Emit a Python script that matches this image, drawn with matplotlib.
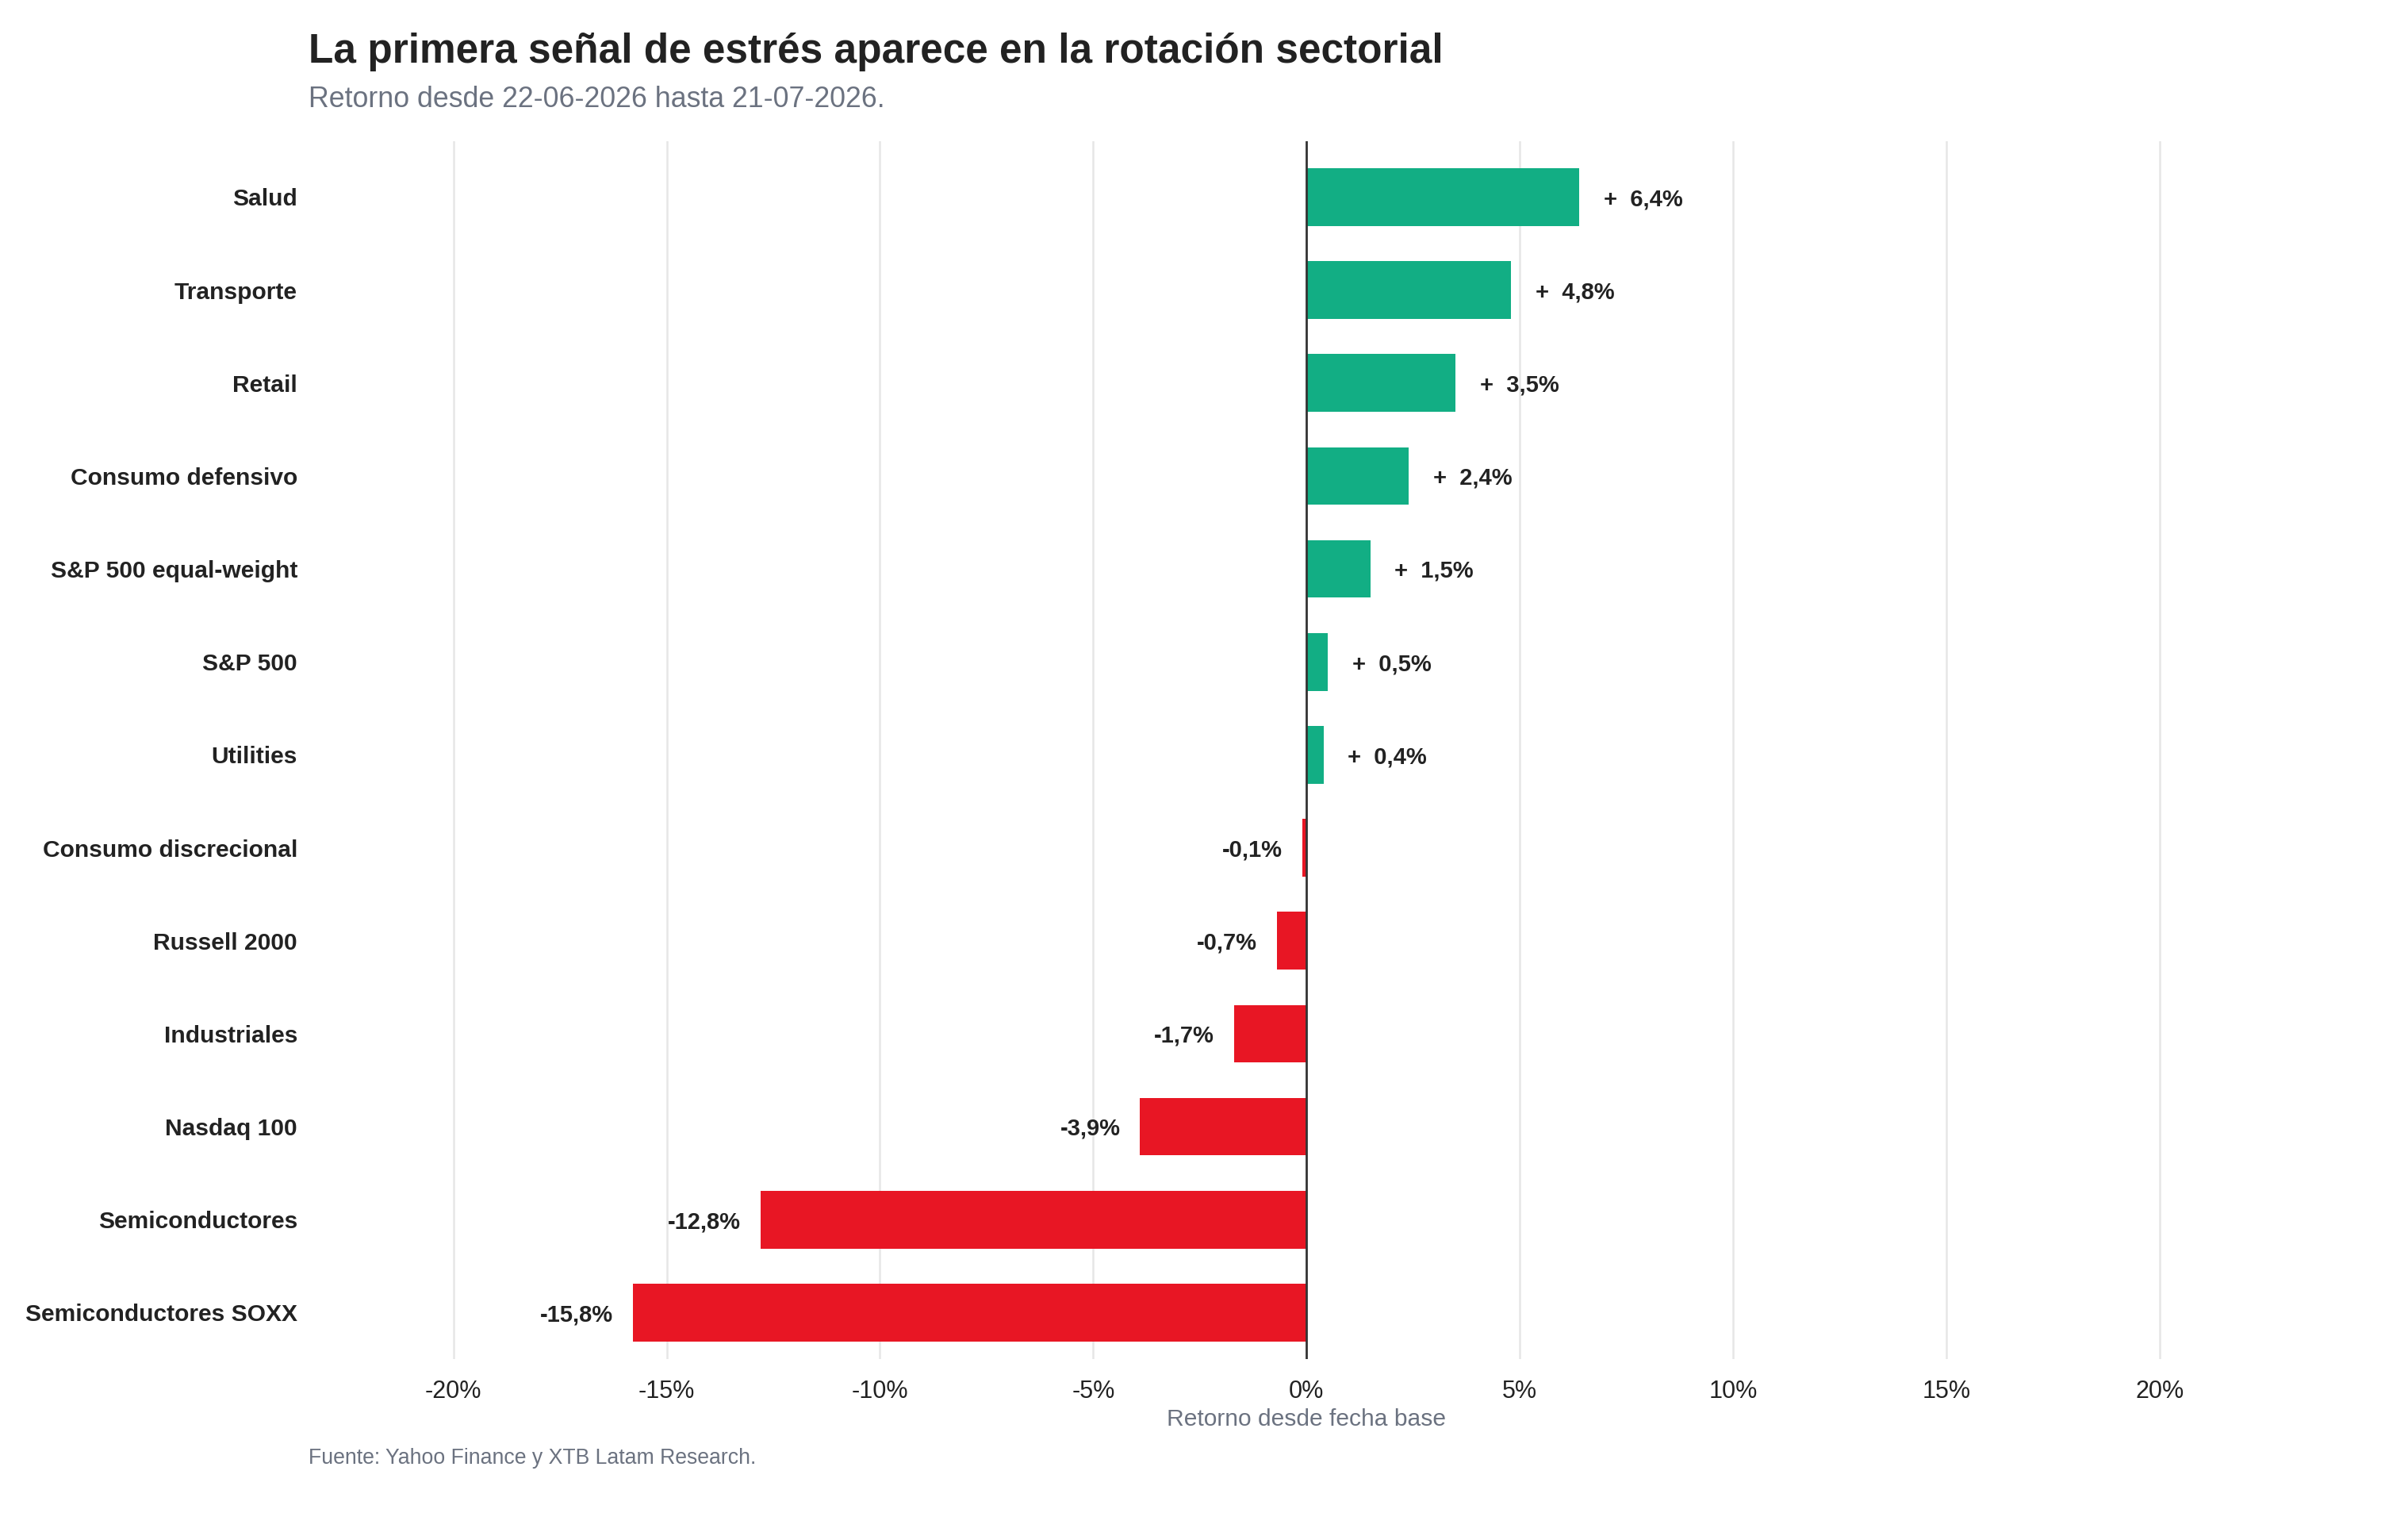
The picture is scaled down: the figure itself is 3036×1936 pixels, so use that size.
import matplotlib.pyplot as plt
import numpy as np

plt.rcParams['font.family'] = ['Liberation Sans', 'DejaVu Sans']

# Datos
categorias = ['Salud', 'Transporte', 'Retail', 'Consumo defensivo',
              'S&P 500 equal-weight', 'S&P 500', 'Utilities',
              'Consumo discrecional', 'Russell 2000', 'Industriales',
              'Nasdaq 100', 'Semiconductores', 'Semiconductores SOXX']
retornos = [6.4, 4.8, 3.5, 2.4, 1.5, 0.5, 0.4, -0.1, -0.7, -1.7, -3.9, -12.8, -15.8]
ticks = [-20, -15, -10, -5, 0, 5, 10, 15, 20]

verde = '#12ae84'
rojo = '#e81624'

fig = plt.figure(figsize=(15.18, 9.68), dpi=200)
ax = fig.add_axes([0.1281, 0.1152, 0.8289, 0.7928])

y = np.arange(len(categorias))[::-1]
colores = [verde if v > 0 else rojo for v in retornos]
ax.barh(y, retornos, height=0.62, color=colores, zorder=2)
ax.axvline(0, color='#333333', linewidth=1.0, zorder=3)

# Etiquetas de valor
for yi, v in zip(y, retornos):
    txt = f'{v:.1f}'.replace('.', ',') + '%'
    if v > 0:
        ax.annotate('+  ' + txt, (v, yi), xytext=(11, -1), textcoords='offset points',
                    ha='left', va='center', fontsize=10.5, fontweight='bold', color='#222222')
    else:
        ax.annotate(txt, (v, yi), xytext=(-9, -1), textcoords='offset points',
                    ha='right', va='center', fontsize=10.5, fontweight='bold', color='#222222')

ax.set_xlim(-23.4, 23.4)
ax.set_ylim(-0.5, len(categorias) - 0.4)
ax.set_xticks(ticks)
ax.set_xticklabels([f'{t}%' for t in ticks])
ax.set_yticks(y)
ax.set_yticklabels(categorias, fontweight='bold', color='#222222', fontsize=10.8)
ax.tick_params(axis='both', length=0)
ax.tick_params(axis='y', pad=5)
ax.tick_params(axis='x', pad=9.5, labelsize=11, labelcolor='#222222')
ax.grid(axis='x', color='#e6e6e6', linewidth=0.9, zorder=0)
ax.set_axisbelow(True)
for s in ax.spines.values():
    s.set_visible(False)

ax.set_xlabel('Retorno desde fecha base', fontsize=10.8, color='#6b7280', labelpad=2)

fig.text(0.1281, 0.966, 'La primera señal de estrés aparece en la rotación sectorial',
         fontsize=18.5, fontweight='bold', color='#222222', va='center', ha='left')
fig.text(0.1281, 0.935, 'Retorno desde 22-06-2026 hasta 21-07-2026.',
         fontsize=12.9, color='#6b7280', va='center', ha='left')
fig.text(0.1281, 0.0505, 'Fuente: Yahoo Finance y XTB Latam Research.',
         fontsize=9.6, color='#6b7280', va='center', ha='left')

fig.savefig('out.png', dpi=200, facecolor='white')
